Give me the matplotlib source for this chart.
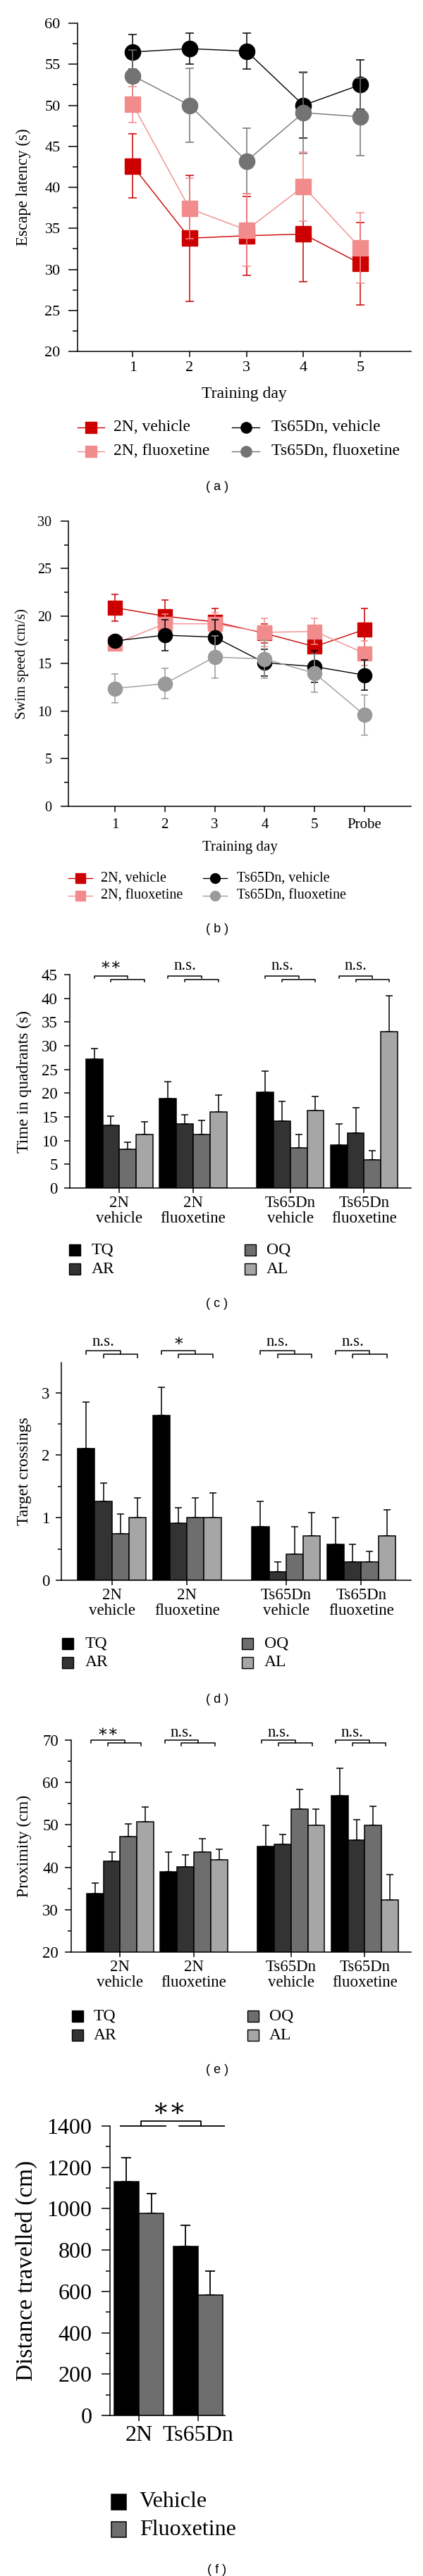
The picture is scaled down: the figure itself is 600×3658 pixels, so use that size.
import numpy as np
import matplotlib.pyplot as plt
from matplotlib.lines import Line2D
from matplotlib.patches import Rectangle

plt.rcParams['font.family'] = ['Liberation Serif', 'DejaVu Serif']
plt.rcParams['axes.linewidth'] = 1.1
plt.rcParams['xtick.major.width'] = 1.1
plt.rcParams['ytick.major.width'] = 1.1
plt.rcParams['xtick.minor.width'] = 1.1
plt.rcParams['ytick.minor.width'] = 1.1

W, H = 600, 3658

# ---- data ----
# (a) escape latency
days = [1, 2, 3, 4, 5]
lat_2n_veh = [42.6, 33.8, 34.1, 34.3, 30.7]
lat_2n_veh_err = [3.9, 7.7, 4.8, 5.8, 5.0]
lat_2n_flx = [50.1, 37.4, 34.8, 40.1, 32.6]
lat_2n_flx_err = [2.2, 3.7, 4.4, 4.2, 4.3]
lat_ts_veh = [56.5, 56.9, 56.6, 50.0, 52.5]
lat_ts_veh_err = [2.1, 1.9, 2.2, 4.0, 3.0]
lat_ts_flx = [53.6, 50.0, 43.2, 49.1, 48.6]
lat_ts_flx_err = [3.1, 4.5, 4.0, 5.0, 4.7]

# (b) swim speed
speed_days = [1, 2, 3, 4, 5, 6]
speed_labels = ['1', '2', '3', '4', '5', 'Probe']
sp_2n_veh = [20.9, 20.0, 19.4, 18.2, 16.8, 18.6]
sp_2n_veh_err = [1.4, 1.7, 1.4, 1.0, 0.6, 2.2]
sp_2n_flx = [17.1, 19.2, 19.2, 18.3, 18.4, 16.1]
sp_2n_flx_err = [0.5, 1.0, 1.2, 1.5, 1.4, 1.3]
sp_ts_veh = [17.4, 18.0, 17.8, 15.1, 14.7, 13.8]
sp_ts_veh_err = [0.6, 1.6, 1.8, 1.4, 1.7, 1.6]
sp_ts_flx = [12.4, 12.9, 15.7, 15.5, 14.0, 9.6]
sp_ts_flx_err = [1.5, 1.6, 2.2, 2.0, 2.0, 2.1]

series_names = ['2N, vehicle', '2N, fluoxetine', 'Ts65Dn, vehicle', 'Ts65Dn, fluoxetine']

# probe trial groups
groups = ['2N\nvehicle', '2N\nfluoxetine', 'Ts65Dn\nvehicle', 'Ts65Dn\nfluoxetine']
quadrants = ['TQ', 'AR', 'OQ', 'AL']

# (c) time in quadrants
time_tq = [27.2, 18.9, 20.2, 9.0]
time_ar = [13.2, 13.5, 14.1, 11.6]
time_oq = [8.1, 11.3, 8.4, 5.9]
time_al = [11.3, 16.0, 16.4, 32.9]
time_tq_err = [2.2, 3.6, 4.4, 4.5]
time_ar_err = [2.0, 2.0, 4.2, 5.4]
time_oq_err = [1.6, 2.9, 2.9, 1.9]
time_al_err = [2.6, 3.6, 2.9, 7.6]
sig_time = ['∗∗', 'n.s.', 'n.s.', 'n.s.']

# (d) target crossings
cross_tq = [2.11, 2.63, 0.86, 0.57]
cross_ar = [1.26, 0.91, 0.14, 0.29]
cross_oq = [0.74, 1.00, 0.42, 0.29]
cross_al = [1.00, 1.00, 0.71, 0.71]
cross_tq_err = [0.74, 0.46, 0.40, 0.43]
cross_ar_err = [0.29, 0.25, 0.15, 0.28]
cross_oq_err = [0.32, 0.32, 0.44, 0.17]
cross_al_err = [0.32, 0.40, 0.37, 0.42]
sig_cross = ['n.s.', '∗', 'n.s.', 'n.s.']

# (e) proximity
prox_tq = [33.8, 39.0, 45.0, 56.9]
prox_ar = [41.5, 40.1, 45.4, 46.4]
prox_oq = [47.2, 43.6, 53.8, 49.9]
prox_al = [50.7, 41.8, 49.9, 32.3]
prox_tq_err = [2.4, 4.6, 4.9, 6.4]
prox_ar_err = [2.1, 2.8, 2.4, 4.9]
prox_oq_err = [3.1, 3.1, 4.6, 4.5]
prox_al_err = [3.5, 2.5, 3.9, 6.0]
sig_prox = ['∗∗', 'n.s.', 'n.s.', 'n.s.']

# (f) distance travelled
genotypes = ['2N', 'Ts65Dn']
treatments = ['Vehicle', 'Fluoxetine']
dist_veh = [1130, 819]
dist_flx = [977, 581]
dist_veh_err = [118, 100]
dist_flx_err = [95, 119]

# ---- styling ----
red, pink, gray_a, gray_b = '#cc0000', '#f28b8b', '#737373', '#9a9a9a'
quad_colors = ['#000000', '#333333', '#6e6e6e', '#a6a6a6']
group_pos = np.array([0, 1.1, 2.55, 3.65])
bw = 0.25

fig = plt.figure(figsize=(W / 100, H / 100), dpi=100)


def px_axes(left, top, right, bottom):
    ax = fig.add_axes([left / W, 1 - bottom / H, (right - left) / W, (bottom - top) / H])
    ax.spines['top'].set_visible(False)
    ax.spines['right'].set_visible(False)
    return ax


def fy(y):
    return 1 - y / H


def set_ylabel_px(ax, text, xc, fs, rect):
    left, top, right, bottom = rect
    ax.set_ylabel(text, fontsize=fs, va='center')
    ax.yaxis.set_label_coords((xc - left) / (right - left), 0.5)


def panel_label(text, y):
    fig.text(308 / W, fy(y), text, ha='center', va='center', fontsize=13,
             family=['Liberation Sans', 'DejaVu Sans'])


def line_legend(rows, fs, lw, ms):
    # rows: (x0, x1, xt, y, color, marker, label)
    for x0, x1, xt, y, c, m, lab in rows:
        fig.add_artist(Line2D([x0 / W, x1 / W], [fy(y), fy(y)], transform=fig.transFigure, color=c, lw=lw))
        fig.add_artist(Line2D([(x0 + x1) / 2 / W], [fy(y)], transform=fig.transFigure, color=c,
                              marker=m, ms=ms, lw=0))
        fig.text(xt / W, fy(y), lab, va='center', fontsize=fs)


def box_legend(rows, fs, size):
    for x0, xt, y, c, lab in rows:
        fig.add_artist(Rectangle((x0 / W, fy(y + size / 2)), size / W, size / H, transform=fig.transFigure,
                                 facecolor=c, edgecolor='black', lw=1.0))
        fig.text(xt / W, fy(y), lab, va='center', fontsize=fs)


# ---- (a) ----
rect = (110, 33, 583, 499)
ax = px_axes(*rect)
for vals, errs, c, m, z in [(lat_ts_veh, lat_ts_veh_err, 'black', 'o', 2),
                            (lat_ts_flx, lat_ts_flx_err, gray_a, 'o', 3),
                            (lat_2n_veh, lat_2n_veh_err, red, 's', 4),
                            (lat_2n_flx, lat_2n_flx_err, pink, 's', 5)]:
    ax.errorbar(days, vals, yerr=errs, color=c, marker=m, ms=16, mec=c, lw=1.0,
                elinewidth=1.1, capsize=4, capthick=1.1, zorder=z, clip_on=False)
ax.set_xlim(0.03, 5.89)
ax.set_ylim(20, 60)
ax.set_xticks(days)
ax.set_yticks(np.arange(20, 61, 5))
ax.set_yticks(np.arange(22.5, 60, 5), minor=True)
ax.tick_params(axis='y', which='major', length=9.5, pad=8, labelsize=16)
ax.tick_params(axis='y', which='minor', length=5)
ax.tick_params(axis='x', length=6, pad=4, labelsize=16)
set_ylabel_px(ax, 'Escape latency (s)', 33, 16.5, rect)
ax.set_xlabel('Training day', fontsize=17, va='center')
ax.xaxis.set_label_coords(0.5, (499 - 559) / (499 - 33))
line_legend([(110, 148, 161, 607, red, 's', series_names[0]),
             (110, 148, 161, 641, pink, 's', series_names[1]),
             (329, 368, 385, 607, 'black', 'o', series_names[2]),
             (329, 368, 385, 641, gray_a, 'o', series_names[3])], 17, 1.0, 11)
panel_label('( a )', 692)

# ---- (b) ----
rect = (97, 740, 583, 1145)
ax = px_axes(*rect)
for vals, errs, c, m, z in [(sp_2n_veh, sp_2n_veh_err, red, 's', 2),
                            (sp_2n_flx, sp_2n_flx_err, pink, 's', 3),
                            (sp_ts_veh, sp_ts_veh_err, 'black', 'o', 4),
                            (sp_ts_flx, sp_ts_flx_err, gray_b, 'o', 5)]:
    ax.errorbar(speed_days, vals, yerr=errs, color=c, marker=m, ms=14.5, mec=c, lw=1.0,
                elinewidth=1.1, capsize=3.8, capthick=1.1, zorder=z)
ax.set_xlim(0.07, 6.93)
ax.set_ylim(0, 30)
ax.set_xticks(speed_days)
ax.set_xticklabels(speed_labels)
ax.set_yticks(np.arange(0, 31, 5))
ax.set_yticks(np.arange(2.5, 30, 5), minor=True)
ax.tick_params(axis='y', which='major', length=8, pad=9, labelsize=14.5)
ax.tick_params(axis='y', which='minor', length=4.5)
ax.tick_params(axis='x', length=6, pad=6, labelsize=15)
set_ylabel_px(ax, 'Swim speed (cm/s)', 31, 14.8, rect)
ax.set_xlabel('Training day', fontsize=15, va='center')
ax.xaxis.set_label_coords(0.5, (1145 - 1204) / (1145 - 740))
line_legend([(97, 131, 143, 1247, red, 's', series_names[0]),
             (97, 131, 143, 1272, pink, 's', series_names[1]),
             (288, 322, 336, 1247, 'black', 'o', series_names[2]),
             (288, 322, 336, 1272, gray_b, 'o', series_names[3])], 14.5, 1.0, 10)
panel_label('( b )', 1319)


# ---- bar panels (c)-(e) ----
def quad_panel(rect, xlim, vals, errs, ylim, major, minor, sig, sig_y, fs, ylab, ylab_x,
               tick_len, tick_pad, shift=0.0):
    ax = px_axes(*rect)
    for k in range(4):
        x = group_pos + (k - 1.5) * bw
        ax.bar(x, vals[k], bw, color=quad_colors[k], edgecolor='black', linewidth=1.1, zorder=2)
        ax.errorbar(x, vals[k], yerr=[np.zeros(4), errs[k]], fmt='none', ecolor='black',
                    elinewidth=1.1, capsize=3.5, capthick=1.1, zorder=1)
    ax.set_xlim(*xlim)
    ax.set_ylim(*ylim)
    ax.set_yticks(major)
    ax.set_yticks(minor, minor=True)
    ax.set_xticks(group_pos)
    ax.set_xticklabels(groups, linespacing=1.05)
    ax.tick_params(axis='y', which='major', length=tick_len, pad=tick_pad, labelsize=fs)
    ax.tick_params(axis='y', which='minor', length=tick_len * 0.6)
    ax.tick_params(axis='x', length=5, pad=3, labelsize=fs)
    set_ylabel_px(ax, ylab, ylab_x, fs + 0.5, rect)
    y_up, y_lo, tk, y_txt = sig_y
    for i, g in enumerate(group_pos):
        c = g + shift
        xs = c + (np.arange(4) - 1.5) * bw
        ax.plot([xs[0], xs[0], xs[2], xs[2]], [y_up - tk, y_up, y_up, y_up - tk],
                color='black', lw=1.1, clip_on=False)
        ax.plot([xs[1], xs[1], xs[3], xs[3]], [y_lo - tk, y_lo, y_lo, y_lo - tk],
                color='black', lw=1.1, clip_on=False)
        ax.text((xs[0] + xs[2]) / 2, y_txt, sig[i], ha='center', va='center', fontsize=fs,
                clip_on=False)
    return ax


def quad_legend(x1, xt1, x2, xt2, y1, y2, fs):
    box_legend([(x1, xt1, y1, quad_colors[0], quadrants[0]),
                (x1, xt1, y2, quad_colors[1], quadrants[1]),
                (x2, xt2, y1, quad_colors[2], quadrants[2]),
                (x2, xt2, y2, quad_colors[3], quadrants[3])], fs, 16)


quad_panel((99, 1384, 583, 1687), (-0.74, 4.35),
           [time_tq, time_ar, time_oq, time_al],
           [time_tq_err, time_ar_err, time_oq_err, time_al_err],
           (0, 45), np.arange(0, 46, 5), [], sig_time, (44.75, 44.0, 0.55, 46.9),
           16.5, 'Time in quadrants (s)', 34, 5.5, 7)
quad_legend(98, 130, 347, 378, 1775, 1802, 17)
panel_label('( c )', 1852)

quad_panel((87, 1935, 583, 2244), (-0.74, 4.38),
           [cross_tq, cross_ar, cross_oq, cross_al],
           [cross_tq_err, cross_ar_err, cross_oq_err, cross_al_err],
           (0, 3.48), [0, 1, 2, 3], [0.5, 1.5, 2.5], sig_cross, (3.67, 3.61, 0.055, 3.81),
           16.5, 'Target crossings', 35, 6, 6)
quad_legend(88, 121, 343, 375, 2334, 2361, 17)
panel_label('( d )', 2414)

quad_panel((101, 2471, 583, 2772), (-0.73, 4.34),
           [prox_tq, prox_ar, prox_oq, prox_al],
           [prox_tq_err, prox_ar_err, prox_oq_err, prox_al_err],
           (20, 70), np.arange(20, 71, 10), np.arange(25, 70, 10), sig_prox,
           (70.0, 69.3, 0.7, 71.7), 16.5, 'Proximity (cm)', 34, 6.5, 6.5, shift=-0.06)
quad_legend(102, 133, 351, 382, 2863, 2890, 17)
panel_label('( e )', 2940)

# ---- (f) ----
rect = (156, 3019, 319, 3430)
ax = px_axes(*rect)
gx = np.arange(len(genotypes))
fw = 0.42
ax.bar(gx - fw / 2, dist_veh, fw, color='black', edgecolor='black', linewidth=1.1, zorder=2)
ax.bar(gx + fw / 2, dist_flx, fw, color='#6e6e6e', edgecolor='black', linewidth=1.1, zorder=2)
ax.errorbar(gx - fw / 2, dist_veh, yerr=[np.zeros(2), dist_veh_err], fmt='none', ecolor='black',
            elinewidth=1.3, capsize=5, capthick=1.3, zorder=1)
ax.errorbar(gx + fw / 2, dist_flx, yerr=[np.zeros(2), dist_flx_err], fmt='none', ecolor='black',
            elinewidth=1.3, capsize=5, capthick=1.3, zorder=1)
ax.set_xlim(-0.49, 1.456)
ax.set_ylim(0, 1400)
ax.set_xticks(gx)
ax.set_xticklabels(genotypes)
ax.set_yticks(np.arange(0, 1401, 200))
ax.set_yticks(np.arange(100, 1400, 200), minor=True)
ax.tick_params(axis='y', which='major', length=9, pad=9.5, labelsize=23)
ax.tick_params(axis='y', which='minor', length=4.5)
ax.tick_params(axis='x', length=6, pad=4, labelsize=23)
set_ylabel_px(ax, 'Distance travelled (cm)', 37, 24, rect)
# significance bracket
for x0, x1 in [(-0.31, 0.45), (0.68, 1.44)]:
    ax.plot([x0, x1], [1400, 1400], color='black', lw=1.3, clip_on=False)
ax.plot([0.036, 0.036, 1.05, 1.05], [1400, 1423, 1423, 1400], color='black', lw=1.3, clip_on=False)
ax.text(0.51, 1475, '∗∗', ha='center', va='center', fontsize=26, clip_on=False)
fig.add_artist(Rectangle((158 / W, fy(3553 + 11)), 21 / W, 22 / H, transform=fig.transFigure,
                         facecolor='black', edgecolor='black', lw=1.1))
fig.add_artist(Rectangle((158 / W, fy(3592 + 11)), 21 / W, 22 / H, transform=fig.transFigure,
                         facecolor='#6e6e6e', edgecolor='black', lw=1.1))
fig.text(198 / W, fy(3553), treatments[0], va='center', fontsize=23)
fig.text(198 / W, fy(3592), treatments[1], va='center', fontsize=23)
panel_label('( f )', 3649)

fig.savefig('out.png', dpi=100)
